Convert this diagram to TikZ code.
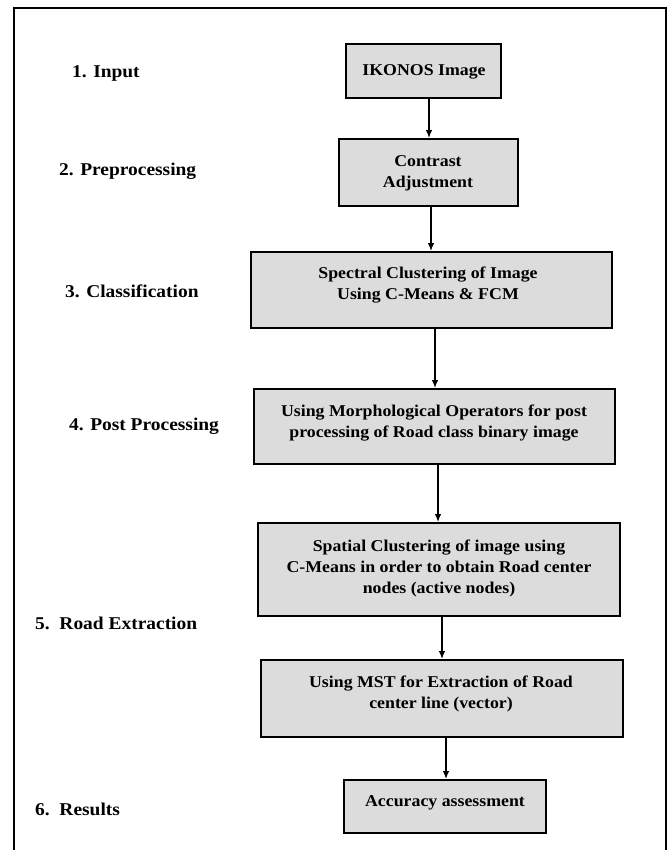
\documentclass[tikz,border=0pt]{standalone}
\usepackage{fontspec}
\setmainfont{Liberation Serif}
\newfontfamily\wideserif[FakeStretch=1.08]{Liberation Serif}
\usetikzlibrary{arrows.meta}
\definecolor{boxgray}{HTML}{DCDCDC}
\tikzset{
  stepbox/.style={draw=black, line width=1.8pt, fill=boxgray, inner sep=0pt},
  boxtext/.style={align=center, inner sep=0pt, font=\wideserif\bfseries\fontsize{16.5}{21}\selectfont},
  stagelabel/.style={anchor=west, inner sep=0pt, font=\wideserif\bfseries\fontsize{18}{22}\selectfont},
  arr/.style={line width=1.5pt, -{Latex[length=8pt,width=6.5pt]}}
}
\begin{document}
\begin{tikzpicture}[x=1pt,y=-1pt]
\useasboundingbox (0,0) rectangle (670,850);
% outer frame (open at the bottom)
\draw[line width=2pt] (14,850) -- (14,8) -- (666,8) -- (666,850);

% boxes
\node[stepbox, minimum width=155pt, minimum height=54pt] (b1) at (423.5,71) {};
\node[stepbox, minimum width=179pt, minimum height=67pt] (b2) at (428.5,172.5) {};
\node[stepbox, minimum width=361pt, minimum height=76pt] (b3) at (431.5,290) {};
\node[stepbox, minimum width=361pt, minimum height=75pt] (b4) at (434.5,426.5) {};
\node[stepbox, minimum width=362pt, minimum height=93pt] (b5) at (439,569.5) {};
\node[stepbox, minimum width=362pt, minimum height=77pt] (b6) at (442,698.5) {};
\node[stepbox, minimum width=202pt, minimum height=53pt] (b7) at (445,806.5) {};

% box texts
\node[boxtext] (t1) at (424,72) {IKONOS Image};
\node[boxtext] (t2) at (428,173) {Contrast\\Adjustment};
\node[boxtext] (t3) at (428,285) {Spectral Clustering of Image\\Using C-Means \& FCM};
\node[boxtext] (t4) at (434,423) {Using Morphological Operators for post\\processing of Road class binary image};
\node[boxtext] (t5) at (439,568) {Spatial Clustering of image using\\C-Means in order to obtain Road center\\nodes (active nodes)};
\node[boxtext] (t6) at (441,694) {Using MST for Extraction of Road\\center line (vector)};
\node[boxtext] (t7) at (445,803) {Accuracy assessment};

% stage labels
\node[stagelabel] (l1) at (72,73) {1. Input};
\node[stagelabel] (l2) at (59,171) {2. Preprocessing};
\node[stagelabel] (l3) at (65,291) {3. Classification};
\node[stagelabel] (l4) at (69,426) {4. Post Processing};
\node[stagelabel] (l5) at (35,623) {5.\ \ Road Extraction};
\node[stagelabel] (l6) at (35,809) {6.\ \ Results};

% arrows
\draw[arr] ([xshift=5.5pt]b1.south) -- ([xshift=5.5pt]b1.south |- b2.north);
\draw[arr] ([xshift=2.5pt]b2.south) -- ([xshift=2.5pt]b2.south |- b3.north);
\draw[arr] ([xshift=3.5pt]b3.south) -- ([xshift=3.5pt]b3.south |- b4.north);
\draw[arr] ([xshift=3.5pt]b4.south) -- ([xshift=3.5pt]b4.south |- b5.north);
\draw[arr] ([xshift=3pt]b5.south) -- ([xshift=3pt]b5.south |- b6.north);
\draw[arr] ([xshift=4pt]b6.south) -- ([xshift=4pt]b6.south |- b7.north);
\end{tikzpicture}
\end{document}
